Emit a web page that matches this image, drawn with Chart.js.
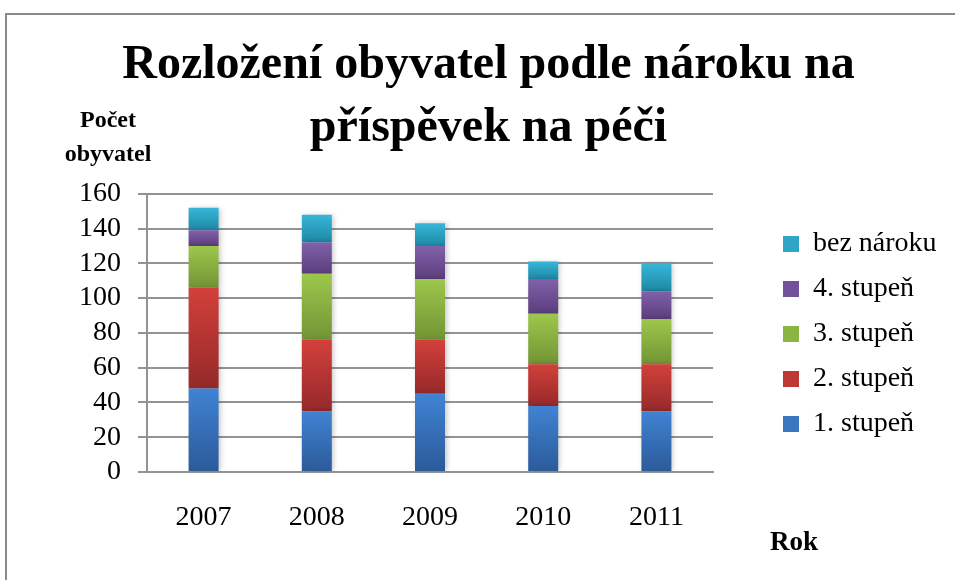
<!DOCTYPE html>
<html>
<head>
<meta charset="utf-8">
<script src="https://cdn.jsdelivr.net/npm/chart.js@4.4.1/dist/chart.umd.min.js"></script>
<style>
  html, body { margin: 0; padding: 0; background: #fff; }
  canvas { display: block; }
</style>
</head>
<body>
<canvas id="chart" width="955" height="580"></canvas>
<script>
// data
const years = ["2007", "2008", "2009", "2010", "2011"];
const stupen1 = [48, 35, 45, 38, 35];
const stupen2 = [58, 41, 31, 24, 27];
const stupen3 = [24, 38, 35, 29, 26];
const stupen4 = [9, 18, 19, 20, 16];
const bezNaroku = [13, 16, 13, 10, 16];
const yTicks = [0, 20, 40, 60, 80, 100, 120, 140, 160];

const seriesNames = ["1. stupeň", "2. stupeň", "3. stupeň", "4. stupeň", "bez nároku"];
const seriesData = [stupen1, stupen2, stupen3, stupen4, bezNaroku];
// [top, bottom, legend] colours of each series
const seriesColors = [
  ["#4083d3", "#2b5a99", "#3a75c0"],
  ["#d3403b", "#95292a", "#c03835"],
  ["#9dc74c", "#729435", "#8cb443"],
  ["#8161ab", "#5b3e7c", "#71519a"],
  ["#37b6da", "#1f88a4", "#2ea6c8"],
];

const FONT = "'Liberation Serif', 'Times New Roman', serif";
const GRID = "#939393";
const PLOT_LEFT = 147;
const PLOT_RIGHT = 713;
const PLOT_BOTTOM = 472;

// gradient per segment, lighter on top
function segmentFill(c) {
  const cols = seriesColors[c.datasetIndex];
  if (c.type !== "data") return cols[2];
  const y = c.chart.scales.y;
  let base = 0;
  for (let i = 0; i < c.datasetIndex; i++) base += seriesData[i][c.dataIndex];
  const top = y.getPixelForValue(base + seriesData[c.datasetIndex][c.dataIndex]);
  const bottom = y.getPixelForValue(base);
  if (!isFinite(top) || !isFinite(bottom) || top === bottom) return cols[2];
  const g = c.chart.ctx.createLinearGradient(0, top, 0, bottom);
  g.addColorStop(0, cols[0]);
  g.addColorStop(1, cols[1]);
  return g;
}

const extras = {
  id: "extras",
  beforeInit(chart) {
    // fix legend width so the plot ends where it does in the original
    const lg = chart.legend;
    const origFit = lg.fit;
    lg.fit = function () {
      origFit.call(this);
      this.width = chart.width - PLOT_RIGHT;
    };
  },
  afterLayout(chart) {
    // move the legend to the spot it has in the original
    const lg = chart.legend;
    lg.left += 53;
    lg.right += 53;
    lg.top += 44;
    lg.bottom += 44;
  },
  beforeDraw(chart) {
    const ctx = chart.ctx;
    ctx.save();
    ctx.strokeStyle = "#8a8a8a";
    ctx.lineWidth = 2;
    ctx.beginPath();
    ctx.moveTo(6, chart.height);
    ctx.lineTo(6, 14);
    ctx.lineTo(chart.width, 14);
    ctx.stroke();
    ctx.restore();
  },
  beforeDatasetsDraw(chart) {
    const ctx = chart.ctx;
    ctx.save();
    ctx.shadowColor = "rgba(0,0,0,0.22)";
    ctx.shadowBlur = 5;
    ctx.shadowOffsetX = 2;
  },
  afterDatasetsDraw(chart) {
    chart.ctx.restore();
  },
  afterDraw(chart) {
    const ctx = chart.ctx;
    ctx.save();
    ctx.fillStyle = "#000";
    ctx.textAlign = "center";
    ctx.textBaseline = "middle";
    ctx.font = "bold 24px " + FONT;
    ctx.fillText("Počet", 108, 121);
    ctx.fillText("obyvatel", 108, 155);
    ctx.font = "bold 27px " + FONT;
    ctx.fillText("Rok", 794, 543);
    ctx.restore();
  },
};

new Chart(document.getElementById("chart"), {
  type: "bar",
  data: {
    labels: years,
    datasets: seriesNames.map((name, i) => ({
      label: name,
      data: seriesData[i],
      backgroundColor: segmentFill,
      borderWidth: 0,
      barPercentage: 0.265,
      categoryPercentage: 1,
    })),
  },
  plugins: [extras],
  options: {
    responsive: false,
    animation: false,
    layout: { padding: { left: 22, right: 0, top: 0, bottom: 0 } },
    scales: {
      x: {
        stacked: true,
        grid: { display: false, drawTicks: false },
        border: { display: true, color: GRID, width: 2 },
        ticks: { color: "#000", font: { family: FONT, size: 28 }, padding: 29 },
        afterFit(scale) { scale.height = 580 - PLOT_BOTTOM; },
      },
      y: {
        stacked: true,
        min: 0,
        max: 160,
        afterBuildTicks(scale) { scale.ticks = yTicks.map(v => ({ value: v })); },
        grid: { color: GRID, lineWidth: 2, tickLength: 9 },
        border: { display: true, color: GRID, width: 2 },
        ticks: { color: "#000", font: { family: FONT, size: 28 }, padding: 17, autoSkip: false },
        afterFit(scale) { scale.width = PLOT_LEFT - 22; },
      },
    },
    plugins: {
      title: {
        display: true,
        text: ["Rozložení obyvatel podle nároku na", "příspěvek na péči"],
        color: "#000",
        font: { family: FONT, size: 48, weight: "bold", lineHeight: 1.31 },
        padding: { top: 34, bottom: 34 },
      },
      legend: {
        position: "right",
        reverse: true,
        labels: {
          color: "#000",
          font: { family: FONT, size: 28 },
          boxWidth: 16,
          boxHeight: 16,
          padding: 17,
          generateLabels(chart) {
            const items = Chart.defaults.plugins.legend.labels.generateLabels(chart);
            items.forEach(it => {
              it.fillStyle = seriesColors[it.datasetIndex][2];
              it.lineWidth = 0;
            });
            return items;
          },
        },
      },
      tooltip: { enabled: false },
    },
  },
});
</script>
</body>
</html>
